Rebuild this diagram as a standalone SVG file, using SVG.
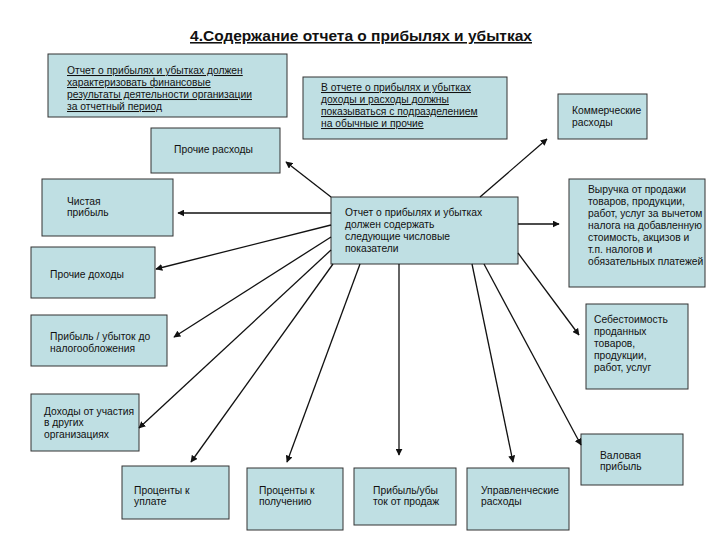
<svg xmlns="http://www.w3.org/2000/svg" width="720" height="540" viewBox="0 0 720 540">
<style>
rect{fill:#bfdfe3;stroke:#333;stroke-width:1}
text{font-family:"Liberation Sans",Arial,sans-serif;font-size:10.3px;fill:#111}
.u{text-decoration:underline}
.t{font-size:15.5px;font-weight:bold;text-decoration:underline}
line{stroke:#111;stroke-width:1.3;marker-end:url(#a)}
</style>
<defs><marker id="a" viewBox="0 0 10 10" refX="9" refY="5" markerWidth="7" markerHeight="7" orient="auto" markerUnits="userSpaceOnUse"><path d="M0,0L10,5L0,10z" fill="#111"/></marker></defs>
<rect width="720" height="540" style="fill:#fff;stroke:none"/>
<text class="t" x="361" y="41" text-anchor="middle">4.Содержание отчета о прибылях и убытках</text>
<g id="nA"><rect x="48" y="54" width="239" height="63"/><text class="u" x="67" y="74">Отчет о прибылях и убытках должен</text><text class="u" x="67" y="86">характеризовать финансовые</text><text class="u" x="67" y="98">результаты деятельности организации</text><text class="u" x="67" y="110">за отчетный период</text></g>
<g id="nB"><rect x="303" y="77" width="204" height="62"/><text class="u" x="321" y="91">В отчете о прибылях и убытках</text><text class="u" x="321" y="103">доходы и расходы должны</text><text class="u" x="321" y="115">показываться с подразделением</text><text class="u" x="321" y="127">на обычные и прочие</text></g>
<g id="nC"><rect x="558" y="94" width="89" height="45"/><text x="572" y="114">Коммерческие</text><text x="572" y="126">расходы</text></g>
<g id="nD"><rect x="151" y="128" width="129" height="45"/><text x="174" y="153">Прочие расходы</text></g>
<g id="nE"><rect x="42" y="179" width="131" height="57"/><text x="67" y="205">Чистая</text><text x="67" y="216">прибыль</text></g>
<g id="center"><rect x="331" y="197" width="187" height="67"/><text x="345" y="216">Отчет о прибылях и убытках</text><text x="345" y="228">должен содержать</text><text x="345" y="240">следующие числовые</text><text x="345" y="252">показатели</text></g>
<g id="nF"><rect x="569" y="179" width="136" height="108"/><text x="588" y="193">Выручка от продажи</text><text x="588" y="205">товаров, продукции,</text><text x="588" y="217">работ, услуг за вычетом</text><text x="588" y="229">налога на добавленную</text><text x="588" y="241">стоимость, акцизов и</text><text x="588" y="253">т.п. налогов и</text><text x="588" y="265">обязательных платежей</text></g>
<g id="nG"><rect x="31" y="247" width="124" height="51"/><text x="50" y="278">Прочие доходы</text></g>
<g id="nH"><rect x="31" y="315" width="136" height="51"/><text x="50" y="340">Прибыль / убыток до</text><text x="50" y="352">налогообложения</text></g>
<g id="nI"><rect x="586" y="304" width="102" height="85"/><text x="594" y="323">Себестоимость</text><text x="594" y="335">проданных</text><text x="594" y="347">товаров,</text><text x="594" y="359">продукции,</text><text x="594" y="371">работ, услуг</text></g>
<g id="nJ"><rect x="31" y="394" width="108" height="57"/><text x="44" y="415">Доходы от участия</text><text x="44" y="426">в других</text><text x="44" y="438">организациях</text></g>
<g id="nK"><rect x="581" y="434" width="102" height="51"/><text x="600" y="459">Валовая</text><text x="600" y="470">прибыль</text></g>
<g id="nL"><rect x="122" y="466" width="107" height="53"/><text x="134" y="494">Проценты к</text><text x="134" y="505">уплате</text></g>
<g id="nM"><rect x="247" y="468" width="96" height="62"/><text x="259" y="494">Проценты к</text><text x="259" y="505">получению</text></g>
<g id="nN"><rect x="354" y="468" width="102" height="57"/><text x="373" y="494">Прибыль/убы</text><text x="373" y="505">ток от продаж</text></g>
<g id="nO"><rect x="467" y="468" width="102" height="62"/><text x="481" y="494">Управленческие</text><text x="481" y="505">расходы</text></g>
<g id="connectors">
<line x1="331" y1="197" x2="286" y2="162"/>
<line x1="480" y1="197" x2="547" y2="139"/>
<line x1="331" y1="213" x2="178" y2="213"/>
<line x1="518" y1="224" x2="559" y2="224"/>
<line x1="331" y1="225" x2="156" y2="269"/>
<line x1="331" y1="237" x2="174" y2="337"/>
<line x1="331" y1="250" x2="139" y2="428"/>
<line x1="333" y1="264" x2="191" y2="462"/>
<line x1="360" y1="264" x2="287" y2="462"/>
<line x1="399" y1="264" x2="399" y2="455"/>
<line x1="472" y1="264" x2="513" y2="462"/>
<line x1="484" y1="264" x2="581" y2="445"/>
<line x1="518" y1="253" x2="579" y2="335"/>
</g>
</svg>
